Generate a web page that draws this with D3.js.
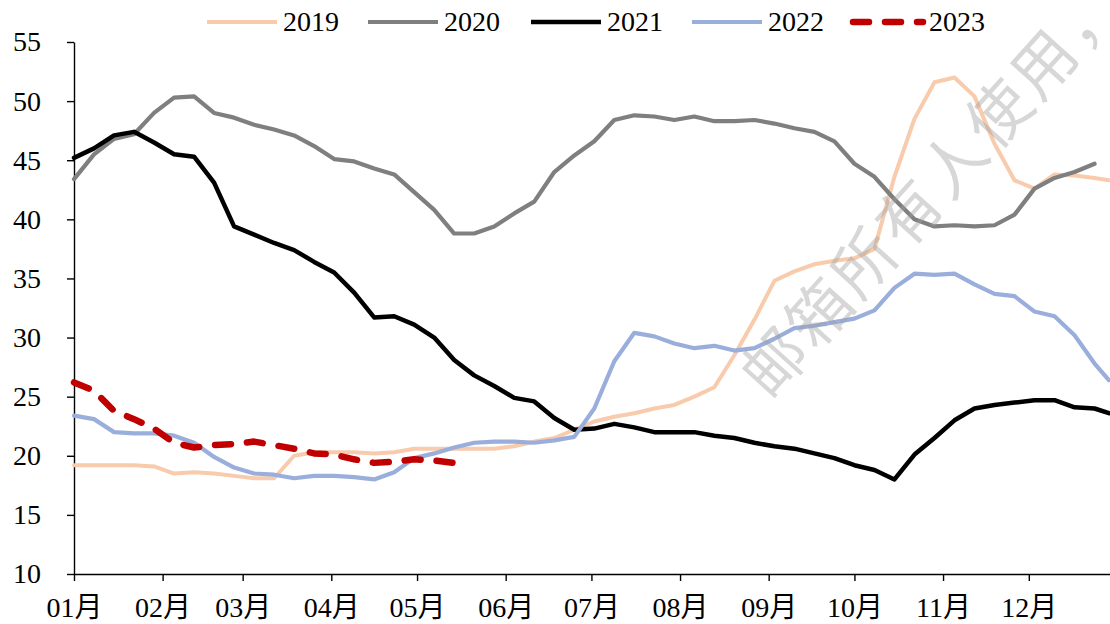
<!DOCTYPE html>
<html>
<head>
<meta charset="utf-8">
<script src="https://cdn.jsdelivr.net/npm/d3@7/dist/d3.min.js"></script>
<style>
  html, body { margin: 0; padding: 0; background: #fff; }
  svg { display: block; }
</style>
</head>
<body>
<svg id="chart" width="1110" height="624"></svg>
<script>
// ---- data (day-of-year offsets, sampled weekly) ----
const weekDays = [0,7,14,21,28,35,42,49,56,63,70,77,84,91,98,105,112,119,126,133,140,147,154,161,168,175,182,189,196,203,210,217,224,231,238,245,252,259,266,273,280,287,294,301,308,315,322,329,336,343,350,357,362];

const monthStartDays = [0,31,59,90,120,151,181,212,243,273,304,334];
const monthLabels = ["01月","02月","03月","04月","05月","06月","07月","08月","09月","10月","11月","12月"];
const yTicks = [10,15,20,25,30,35,40,45,50,55];

const seriesNames = ["2019","2020","2021","2022","2023"];

const v2019 = [19.2,19.2,19.2,19.2,19.1,18.5,18.6,18.5,18.3,18.1,18.1,20.0,20.3,20.3,20.3,20.2,20.3,20.6,20.6,20.6,20.6,20.6,20.8,21.2,21.5,22.2,22.9,23.3,23.6,24.0,24.3,25.0,25.8,28.5,31.5,34.8,35.6,36.2,36.5,36.7,37.5,43.6,48.5,51.6,52.0,50.4,46.4,43.3,42.6,43.8,43.7,43.5,43.3];
const v2020 = [43.4,45.5,46.8,47.2,49.0,50.3,50.4,49.0,48.6,48.0,47.6,47.1,46.2,45.1,44.9,44.3,43.8,42.3,40.8,38.8,38.8,39.4,40.5,41.5,44.0,45.4,46.6,48.4,48.8,48.7,48.4,48.7,48.3,48.3,48.4,48.1,47.7,47.4,46.6,44.7,43.6,41.7,40.0,39.4,39.5,39.4,39.5,40.4,42.6,43.5,44.0,44.7,null];
const v2021 = [45.2,46.0,47.1,47.4,46.5,45.5,45.3,43.1,39.4,38.7,38.0,37.4,36.4,35.5,33.8,31.7,31.8,31.1,30.0,28.1,26.8,25.9,24.9,24.6,23.2,22.2,22.3,22.7,22.4,22.0,22.0,22.0,21.7,21.5,21.1,20.8,20.6,20.2,19.8,19.2,18.8,18.0,20.1,21.5,23.0,24.0,24.3,24.5,24.7,24.7,24.1,24.0,23.6];
const v2022 = [23.4,23.1,22.0,21.9,21.9,21.7,21.1,19.9,19.0,18.5,18.4,18.1,18.3,18.3,18.2,18.0,18.6,19.8,20.2,20.7,21.1,21.2,21.2,21.1,21.3,21.6,24.0,28.0,30.4,30.1,29.5,29.1,29.3,28.9,29.1,29.9,30.8,31.0,31.3,31.6,32.3,34.2,35.4,35.3,35.4,34.5,33.7,33.5,32.2,31.8,30.2,27.8,26.4];
const v2023 = [26.2,25.5,23.8,23.1,22.3,21.1,20.7,20.9,21.0,21.2,20.9,20.6,20.2,20.1,19.7,19.4,19.5,19.7,19.6,19.4];

const seriesValues = [v2019, v2020, v2021, v2022, v2023];
const seriesColors = ["#f8cbad","#7f7f7f","#000000","#9aaedb","#c00000"];
const seriesWidths = [4, 4.2, 4.5, 4.2, 6.5];
const seriesDash = [null, null, null, null, "16,16"];

const watermarkText = "邮箱所有人使用，";

// ---- layout ----
const svg = d3.select("#chart");
const fontLatin = "'Liberation Serif','Times New Roman','Noto Sans CJK SC',serif";

const x = d3.scaleLinear().domain([0, 362.4]).range([74, 1110]);
const y = d3.scaleLinear().domain([10, 55]).range([574, 42]);

// axes
const yAxis = d3.axisLeft(y).tickValues(yTicks).tickSize(7).tickSizeOuter(0).tickPadding(26);
const gy = svg.append("g").attr("transform", "translate(74,0)").call(yAxis);
gy.selectAll("text").attr("font-family", fontLatin).attr("font-size", 28).attr("fill", "#000");

const xAxis = d3.axisBottom(x).tickValues(monthStartDays).tickSize(7).tickSizeOuter(0)
  .tickFormat((d, i) => monthLabels[i]);
const gx = svg.append("g").attr("transform", "translate(0,574)").call(xAxis);
gx.selectAll("text").attr("font-family", fontLatin).attr("font-size", 28).attr("fill", "#000")
  .attr("dy", null).attr("y", 43);

[gx, gy].forEach(g => {
  g.attr("font-family", fontLatin);
  g.select(".domain").attr("stroke", "#000").attr("stroke-width", 1.4);
  g.selectAll(".tick line").attr("stroke", "#000").attr("stroke-width", 1.4);
});

// lines
const lineGen = d3.line()
  .defined(d => d[1] != null)
  .x(d => x(d[0]))
  .y(d => y(d[1]));

seriesValues.forEach((vals, i) => {
  const pts = vals.map((v, j) => [weekDays[j], v]);
  svg.append("path")
    .datum(pts)
    .attr("d", lineGen)
    .attr("fill", "none")
    .attr("stroke", seriesColors[i])
    .attr("stroke-width", seriesWidths[i])
    .attr("stroke-linejoin", "round")
    .attr("stroke-linecap", "round")
    .attr("stroke-dasharray", seriesDash[i]);
});

// legend
const legendX = [207, 368, 531, 692, 853];
const legendY = 22;
seriesNames.forEach((name, i) => {
  const g = svg.append("g");
  g.append("line")
    .attr("x1", legendX[i]).attr("x2", legendX[i] + 70)
    .attr("y1", legendY).attr("y2", legendY)
    .attr("stroke", seriesColors[i])
    .attr("stroke-width", seriesWidths[i])
    .attr("stroke-linecap", i === 4 ? "round" : "butt")
    .attr("stroke-dasharray", seriesDash[i]);
  g.append("text")
    .attr("x", legendX[i] + 76).attr("y", legendY + 9)
    .attr("font-family", fontLatin).attr("font-size", 28).attr("fill", "#000")
    .text(name);
});

// watermark
svg.append("text")
  .attr("transform", "translate(750,383) rotate(-48)")
  .attr("dominant-baseline", "central")
  .attr("font-family", "'Noto Sans CJK SC'")
  .attr("font-size", 63)
  .attr("letter-spacing", 4)
  .attr("fill", "#a0a0a0")
  .attr("fill-opacity", 0.42)
  .text(watermarkText);
</script>
</body>
</html>
